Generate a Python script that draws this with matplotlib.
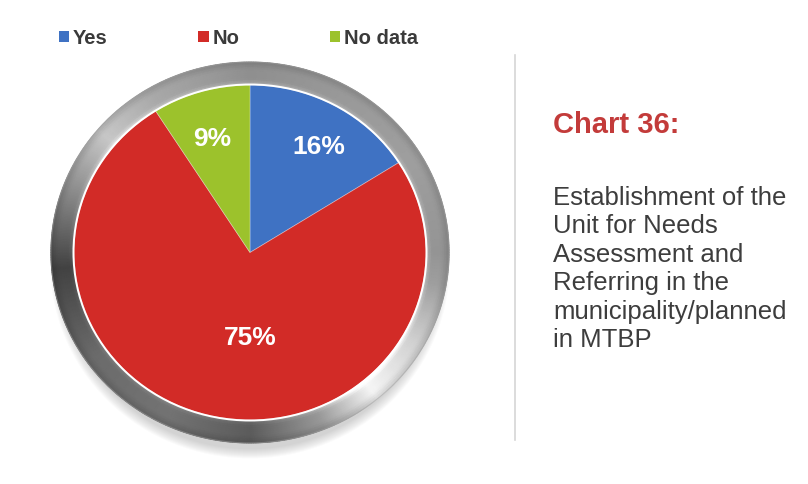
import numpy as np
import matplotlib
matplotlib.use("Agg")
import matplotlib.pyplot as plt
from matplotlib.patches import Patch, Ellipse
from matplotlib.lines import Line2D

# ---- data -------------------------------------------------------------
categories = ["Yes", "No", "No data"]
shares = [16, 75, 9]
colors = ["#3f72c3", "#d22b27", "#9cc22c"]

title = "Chart 36:"
description = [
    "Establishment of the",
    "Unit for Needs",
    "Assessment and",
    "Referring in the",
    "municipality/planned",
    "in MTBP",
]

# ---- layout (pixels) ----------------------------------------------------
W, H = 808, 484
cx, cy = 250, 252.5          # pie centre
rx, ry = 176, 167.5          # pie half-width / half-height
span = 1.3
label_pos = [(0.392, 0.630), (0.0, -0.510), (-0.216, 0.678)]

plt.rcParams["font.family"] = ["Liberation Sans", "DejaVu Sans"]

fig = plt.figure(figsize=(W / 100, H / 100), dpi=100)
fig.patch.set_facecolor("white")

ax = fig.add_axes([(cx - span * rx) / W, (H - cy - span * ry) / H,
                   2 * span * rx / W, 2 * span * ry / H])

# soft drop shadow under the bezel
for k in range(10):
    sx = 1.08 + 0.006 * k
    sy = 1.10 + 0.006 * k
    ax.add_patch(Ellipse((0.0, -0.075), 2 * sx, 2 * sy, color="#707070",
                         alpha=0.03, lw=0, zorder=0))

# metallic bezel: gouraud-shaded ring
ang_pts = np.array([0, 30, 60, 90, 120, 140, 160, 185, 215, 245, 270, 292, 310, 330, 350, 360])
gray_pts = np.array([0.58, 0.62, 0.6, 0.56, 0.66, 0.78, 0.55, 0.26, 0.42, 0.45, 0.36, 0.6, 0.96, 0.82, 0.62, 0.58])
theta = np.linspace(0, 2 * np.pi, 721)
tvals = np.linspace(0, 1, 12)
T, TH = np.meshgrid(tvals, theta, indexing="ij")
ax_out, ay_out = 1.131, 1.137
Rx = 0.995 + (ax_out - 0.995) * T
Ry = 0.995 + (ay_out - 0.995) * T
X = Rx * np.cos(TH)
Y = Ry * np.sin(TH)
g = np.interp(np.degrees(TH), ang_pts, gray_pts)
radial = 1.0 + 0.18 * np.exp(-((T - 0.08) / 0.12) ** 2) - 0.12 * np.clip((T - 0.7) / 0.3, 0, 1)
C = np.clip(g * radial, 0, 1)
ax.pcolormesh(X, Y, C, cmap="gray", vmin=0, vmax=1, shading="gouraud", zorder=1)
ax.add_patch(Ellipse((0, 0), 2 * ax_out, 2 * ay_out, fill=False,
                     ec="#a0a0a0", lw=0.8, alpha=0.5, zorder=1.5))

# pie
wedges, _ = ax.pie(shares, colors=colors, startangle=90, counterclock=False,
                   radius=1.0, center=(0, 0), frame=True,
                   wedgeprops=dict(linewidth=0.6, edgecolor=(1, 1, 1, 0.35)))
for w in wedges:
    w.set_zorder(2)
ax.add_patch(Ellipse((0, 0), 2.006, 2.006, fill=False, ec="white", lw=1.4, zorder=3))

for v, (lx, ly) in zip(shares, label_pos):
    ax.text(lx, ly, f"{v}%", ha="center", va="center", color="white",
            fontsize=19, fontweight="bold", zorder=4)

ax.set_xlim(-span, span)
ax.set_ylim(-span, span)
ax.set_aspect("auto")
ax.axis("off")

# legend across the top
handles = [Patch(facecolor=c, edgecolor="none") for c in colors]
fig.legend(handles, categories, loc="center left",
           bbox_to_anchor=(59 / W, 1 - 38 / H), ncol=3, frameon=False,
           prop=dict(weight="bold", size=14.5),
           handlelength=0.5, handleheight=0.5, handletextpad=0.2,
           columnspacing=4.5, borderpad=0, borderaxespad=0, labelcolor="#3a3a3a")

# divider
fig.add_artist(Line2D([515 / W, 515 / W], [1 - 55 / H, 1 - 440 / H],
                      color="#d6d6d6", lw=1.2))

# caption
fig.text(553 / W, 1 - 133 / H, title, color="#c33b3a", fontsize=21,
         fontweight="bold", va="baseline", ha="left")
for i, line in enumerate(description):
    fig.text(553 / W, 1 - (205 + 28.4 * i) / H, line, color="#3d3d3d",
             fontsize=18.5, va="baseline", ha="left")

fig.savefig("out.png", dpi=100, facecolor="white")
